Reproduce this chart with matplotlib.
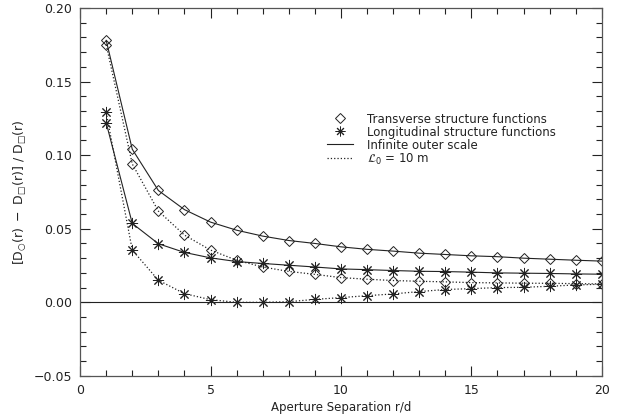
import numpy as np
import matplotlib
matplotlib.use('Agg')
import matplotlib.pyplot as plt
from matplotlib.ticker import MultipleLocator

r = np.arange(1, 21)

# transverse, infinite outer scale
trans_inf = [0.178, 0.104, 0.076, 0.063, 0.0545, 0.049, 0.045, 0.042, 0.040, 0.0377,
             0.036, 0.0348, 0.0334, 0.0325, 0.0316, 0.031, 0.030, 0.0293, 0.0286, 0.028]
# transverse, L0 = 10 m
trans_l0 = [0.175, 0.094, 0.062, 0.0457, 0.0355, 0.0286, 0.024, 0.021, 0.019, 0.0168,
            0.0157, 0.0148, 0.0143, 0.0139, 0.0134, 0.0132, 0.013, 0.0129, 0.0127, 0.0125]
# longitudinal, infinite outer scale
long_inf = [0.122, 0.0536, 0.0398, 0.0339, 0.0302, 0.0277, 0.0264, 0.0252, 0.024, 0.0227,
            0.0222, 0.0216, 0.0211, 0.0209, 0.0205, 0.020, 0.0198, 0.0196, 0.0193, 0.0191]
# longitudinal, L0 = 10 m
long_l0 = [0.129, 0.0355, 0.015, 0.0059, 0.0018, 0.0, 0.0, 0.0004, 0.002, 0.0032,
           0.0045, 0.0057, 0.0073, 0.0087, 0.0093, 0.010, 0.0102, 0.0109, 0.0118, 0.0123]

xticks = [0, 5, 10, 15, 20]
yticks = [-0.05, 0.0, 0.05, 0.10, 0.15, 0.20]
ytick_labels = ['\u22120.05', '0.00', '0.05', '0.10', '0.15', '0.20']

plt.rcParams['font.family'] = 'DejaVu Sans'
fig = plt.figure(figsize=(6.21, 4.2), dpi=100)
ax = fig.add_axes([0.129, 0.105, 0.84, 0.876])

col = '#222222'
ast = (8, 2, 0)
ax.plot(r, trans_inf, '-', color=col, lw=0.8, marker='D', ms=4.6, mfc='none', mew=0.7)
ax.plot(r, trans_l0, ':', color=col, lw=0.9, marker='D', ms=4.6, mfc='none', mew=0.7)
ax.plot(r, long_inf, '-', color=col, lw=0.8, marker=ast, ms=8, mew=0.7)
ax.plot(r, long_l0, ':', color=col, lw=0.9, marker=ast, ms=8, mew=0.7)
ax.axhline(0, color=col, lw=0.8)

ax.set_xticks(xticks)
ax.set_xticklabels([str(t) for t in xticks])
ax.set_yticks(yticks)
ax.set_yticklabels(ytick_labels)
ax.xaxis.set_minor_locator(MultipleLocator(1))
ax.yaxis.set_minor_locator(MultipleLocator(0.01))
ax.set_xlim(0, 20)
ax.set_ylim(-0.05, 0.20)
ax.tick_params(which='both', direction='in', top=True, right=True, color=col,
               width=0.8, labelsize=9, labelcolor=col)
ax.tick_params(which='major', length=7, pad=6)
ax.tick_params(which='minor', length=4)
for s in ax.spines.values():
    s.set_color('#555555')
    s.set_linewidth(0.9)

ax.set_xlabel('Aperture Separation r/d', fontsize=8.5, color=col, labelpad=3)
ax.set_ylabel('$[\\mathrm{D}_{○}(\\mathrm{r})\\ -\\ \\mathrm{D}_{□}(\\mathrm{r})]\\ /\\ \\mathrm{D}_{□}(\\mathrm{r})$',
              fontsize=9, color=col, labelpad=4)

h1 = plt.Line2D([], [], ls='none', marker='D', ms=4.6, mfc='none', mec=col, mew=0.7)
h2 = plt.Line2D([], [], ls='none', marker=ast, ms=7, mec=col, mew=0.7)
h3 = plt.Line2D([], [], ls='-', color=col, lw=0.8)
h4 = plt.Line2D([], [], ls=':', color=col, lw=0.9)
labels = ['Transverse structure functions', 'Longitudinal structure functions',
          'Infinite outer scale', '$\\mathcal{L}_0$ = 10 m']
ax.legend([h1, h2, h3, h4], labels, loc='upper left', bbox_to_anchor=(0.526, 0.732),
          bbox_transform=fig.transFigure, frameon=False, fontsize=8.5, labelspacing=0.0,
          handlelength=2.2, handletextpad=1.2, borderpad=0, borderaxespad=0, labelcolor=col)

fig.savefig('out.png', dpi=100)
